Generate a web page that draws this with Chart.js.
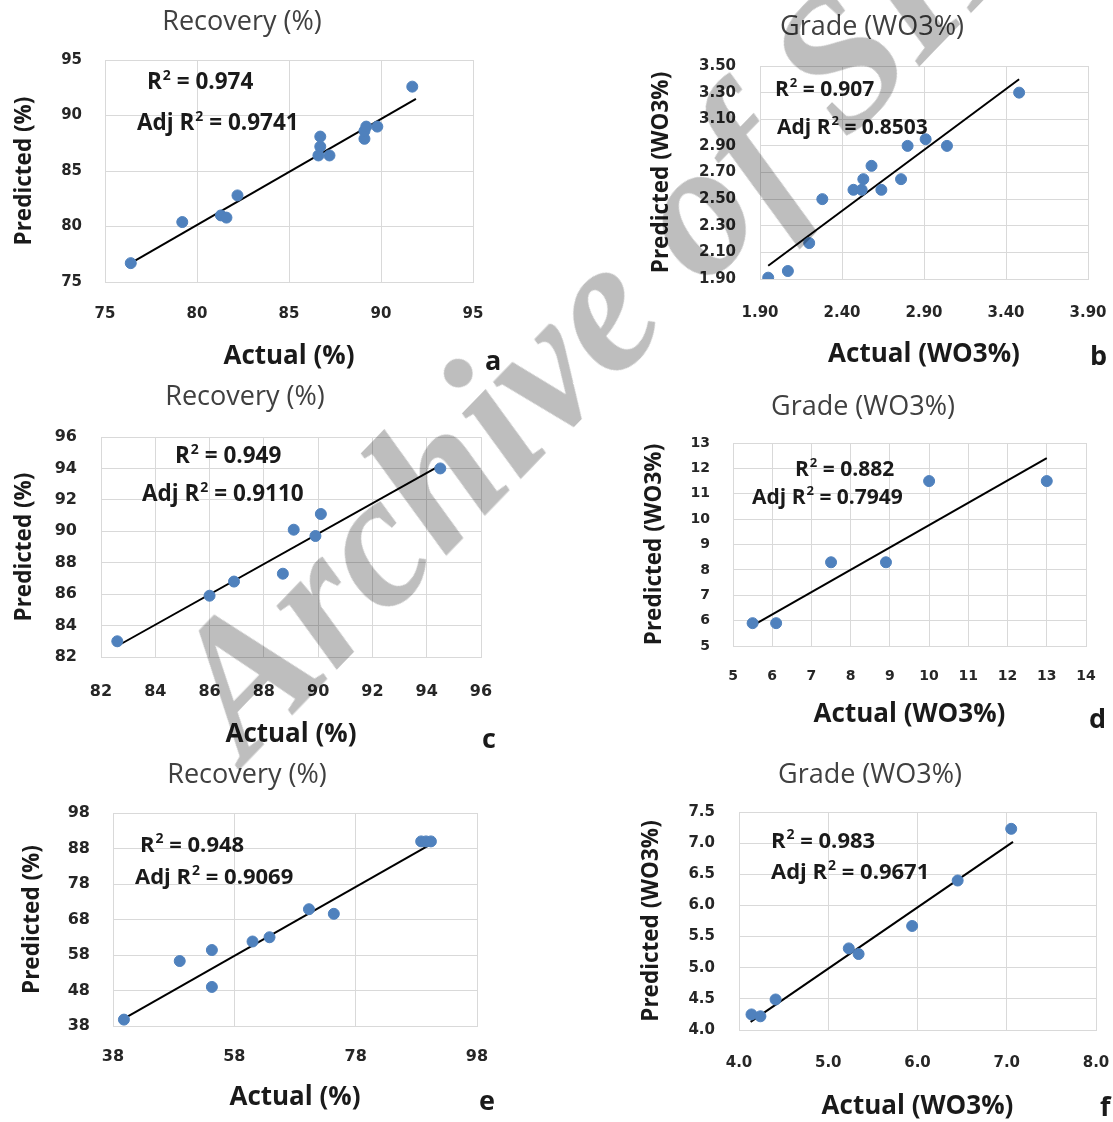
<!DOCTYPE html>
<html>
<head>
<meta charset="utf-8">
<script src="https://cdn.jsdelivr.net/npm/chart.js@4.4.1/dist/chart.umd.min.js"></script>
<style>
  body { margin: 0; background: #fff; }
  #wrap { position: relative; width: 1113px; height: 1122px; overflow: hidden; background: #fff; }
  .panel { position: absolute; }
  #mark { position: absolute; left: 236px; top: 754px; width: 0; height: 0; pointer-events: none; mix-blend-mode: multiply; }
  #mark span {
    position: absolute; left: 0; top: -0.8375em; line-height: 1em; white-space: nowrap;
    font: italic bold 190px "Liberation Serif", serif; color: #bebebe;
    transform-origin: 0 0.8375em; transform: rotate(-46deg);
  }
</style>
</head>
<body>
<div id="wrap">
  <div class="panel" style="left:0;top:0"><canvas id="ca" width="520" height="380"></canvas></div>
  <div class="panel" style="left:560px;top:0"><canvas id="cb" width="553" height="380"></canvas></div>
  <div class="panel" style="left:0;top:380px"><canvas id="cc" width="520" height="380"></canvas></div>
  <div class="panel" style="left:560px;top:380px"><canvas id="cd" width="553" height="380"></canvas></div>
  <div class="panel" style="left:0;top:760px"><canvas id="ce" width="520" height="362"></canvas></div>
  <div class="panel" style="left:560px;top:760px"><canvas id="cf" width="553" height="362"></canvas></div>
  <div id="mark"><span>Archive of SID</span></div>
</div>
<script>
// ---- data ----
const actualA    = [76.4, 79.2, 81.3, 81.6, 82.2, 86.6, 86.7, 86.7, 87.2, 89.1, 89.1, 89.2, 89.8, 91.7];
const predictedA = [76.7, 80.4, 81.0, 80.8, 82.8, 86.4, 87.2, 88.1, 86.4, 87.9, 88.6, 89.0, 89.0, 92.6];
const fitXA = [76.4, 91.9], fitYA = [76.7, 91.5];

const actualB    = [1.95, 2.07, 2.20, 2.28, 2.47, 2.52, 2.53, 2.58, 2.64, 2.76, 2.80, 2.91, 3.04, 3.48];
const predictedB = [1.91, 1.96, 2.17, 2.50, 2.57, 2.57, 2.65, 2.75, 2.57, 2.65, 2.90, 2.95, 2.90, 3.30];
const fitXB = [1.95, 3.48], fitYB = [2.00, 3.40];

const actualC    = [82.6, 86.0, 86.9, 88.7, 89.1, 89.9, 90.1, 94.5];
const predictedC = [83.0, 85.9, 86.8, 87.3, 90.1, 89.7, 91.1, 94.0];
const fitXC = [82.6, 94.5], fitYC = [82.7, 94.2];

const actualD    = [5.5, 6.1, 7.5, 8.9, 10.0, 13.0];
const predictedD = [5.9, 5.9, 8.3, 8.3, 11.5, 11.5];
const fitXD = [5.5, 13.0], fitYD = [5.8, 12.4];

const actualE    = [39.8, 49.0, 54.3, 54.3, 61.0, 63.8, 70.3, 74.4, 88.8, 89.6, 90.4];
const predictedE = [39.8, 56.3, 59.4, 49.0, 61.8, 63.0, 70.9, 69.6, 90.0, 90.0, 90.0];
const fitXE = [39.8, 90.2], fitYE = [40.1, 89.0];

const actualF    = [4.14, 4.24, 4.41, 5.23, 5.34, 5.94, 6.45, 7.05];
const predictedF = [4.25, 4.22, 4.49, 5.31, 5.22, 5.67, 6.40, 7.23];
const fitXF = [4.13, 7.07], fitYF = [4.13, 7.02];

const r2Values  = ['0.974', '0.907', '0.949', '0.882', '0.948', '0.983'];
const adjValues = ['0.9741', '0.8503', '0.9110', '0.7949', '0.9069', '0.9671'];

const ticksA  = ['75', '80', '85', '90', '95'];
const ticksBx = ['1.90', '2.40', '2.90', '3.40', '3.90'];
const ticksBy = ['1.90', '2.10', '2.30', '2.50', '2.70', '2.90', '3.10', '3.30', '3.50'];
const ticksC  = ['82', '84', '86', '88', '90', '92', '94', '96'];
const ticksDx = ['5', '6', '7', '8', '9', '10', '11', '12', '13', '14'];
const ticksDy = ['5', '6', '7', '8', '9', '10', '11', '12', '13'];
const ticksEx = ['38', '58', '78', '98'];
const ticksEy = ['38', '48', '58', '68', '78', '88', '98'];
const ticksFx = ['4.0', '5.0', '6.0', '7.0', '8.0'];
const ticksFy = ['4.0', '4.5', '5.0', '5.5', '6.0', '6.5', '7.0', '7.5'];

const recTitle = 'Recovery (%)', gradeTitle = 'Grade (WO3%)';

// R² labels and panel letter
const notes = {
  id: 'notes',
  afterDatasetsDraw(chart, args, o) {
    const ctx = chart.ctx, ca = chart.chartArea;
    const big = 'bold ' + o.size + 'px "Open Sans"';
    const small = 'bold ' + Math.round(o.size * 0.62) + 'px "Open Sans"';
    ctx.save();
    ctx.fillStyle = '#1a1a1a';
    ctx.textBaseline = 'middle';
    o.lines.forEach(function (l) {
      let x = ca.left + l[2], y = ca.top + l[3];
      ctx.font = big; ctx.fillText(l[0], x, y); x += ctx.measureText(l[0]).width + 1;
      ctx.font = small; ctx.fillText('2', x, y - o.size * 0.3); x += ctx.measureText('2').width;
      ctx.font = big; ctx.fillText(l[1], x, y);
    });
    ctx.font = 'bold 27px "Open Sans"';
    ctx.fillText(o.letter, ca.right + o.letterAt[0], ca.bottom + o.letterAt[1]);
    ctx.restore();
  }
};

function pts(xs, ys) { return xs.map((x, i) => ({x: x, y: ys[i]})); }

function axis(labels, g, horiz) {
  const lo = parseFloat(labels[0]), hi = parseFloat(labels[labels.length - 1]);
  return {
    type: 'linear', min: lo, max: hi,
    ticks: {
      stepSize: (hi - lo) / (labels.length - 1), autoSkip: false,
      color: '#262626', padding: horiz ? g.xTickPad : g.yTickPad,
      font: {family: '"DejaVu Sans"', weight: 'bold', size: g.tick},
      callback: (v, i) => labels[i]
    },
    grid: {color: '#d9d9d9', drawTicks: false},
    border: {color: '#d9d9d9'},
    title: {
      display: true, text: horiz ? g.xTitle : g.yTitle, color: '#1a1a1a',
      font: {family: '"Open Sans"', weight: 'bold', size: horiz ? 26 : 22.5},
      padding: horiz ? {top: 0, bottom: g.xTitlePad} : {top: g.yTitlePad, bottom: 0}
    },
    afterFit(s) {
      if (horiz) { s.height = g.xH; s.paddingLeft = 0; s.paddingRight = 0; }
      else { s.width = g.yW; s.paddingTop = 0; s.paddingBottom = 0; }
    }
  };
}

function panel(id, xs, ys, fx, fy, xt, yt, g) {
  new Chart(document.getElementById(id), {
    type: 'scatter',
    data: {
      datasets: [
        {data: pts(xs, ys), backgroundColor: '#4f81bd', borderColor: '#4f81bd', pointRadius: 5.5, pointHoverRadius: 5.5},
        {data: pts(fx, fy), showLine: true, borderColor: '#000', borderWidth: 2, pointRadius: 0}
      ]
    },
    options: {
      responsive: false, animation: false, devicePixelRatio: 1,
      layout: {padding: {left: g.pl, right: g.pr, top: 0, bottom: 0}},
      plugins: {
        legend: {display: false}, tooltip: {enabled: false},
        title: {
          display: true, text: g.title, color: '#404040',
          font: {family: '"Open Sans"', weight: 'normal', size: 27},
          padding: {top: g.tTop, bottom: g.tBottom}
        },
        notes: {size: g.note, letter: g.letter, letterAt: g.letterAt, lines: g.lines}
      },
      scales: {x: axis(xt, g, true), y: axis(yt, g, false)}
    },
    plugins: [notes]
  });
}

panel('ca', actualA, predictedA, fitXA, fitYA, ticksA, ticksA, {
  title: recTitle, xTitle: 'Actual (%)', yTitle: 'Predicted (%)', letter: 'a',
  pl: 11, pr: 47, tTop: 5.8, tBottom: 21.8, yW: 94, xH: 98, yTitlePad: 0.5, xTitlePad: 7.4,
  tick: 15, xTickPad: 23, yTickPad: 23, note: 22.5, letterAt: [12, 80],
  lines: [['R', ' = ' + r2Values[0], 42, 23], ['Adj R', ' = ' + adjValues[0], 32, 64]]
});
panel('cb', actualB, predictedB, fitXB, fitYB, ticksBx, ticksBy, {
  title: gradeTitle, xTitle: 'Actual (WO3%)', yTitle: 'Predicted (WO3%)', letter: 'b',
  pl: 96, pr: 25, tTop: 10.8, tBottom: 22.8, yW: 104, xH: 101, yTitlePad: -7.5, xTitlePad: 9.4,
  tick: 15, xTickPad: 25, yTickPad: 24, note: 21, letterAt: [2, 78],
  lines: [['R', ' = ' + r2Values[1], 15, 24], ['Adj R', ' = ' + adjValues[1], 17, 62]]
});
panel('cc', actualC, predictedC, fitXC, fitYC, ticksC, ticksC, {
  title: recTitle, xTitle: 'Actual (%)', yTitle: 'Predicted (%)', letter: 'c',
  pl: 9, pr: 39, tTop: 0.8, tBottom: 23.8, yW: 92, xH: 103, yTitlePad: 2.5, xTitlePad: 9.4,
  tick: 16, xTickPad: 25.4, yTickPad: 24, note: 22.5, letterAt: [1, 83],
  lines: [['R', ' = ' + r2Values[2], 74, 20], ['Adj R', ' = ' + adjValues[2], 41, 58]]
});
panel('cd', actualD, predictedD, fitXD, fitYD, ticksDx, ticksDy, {
  title: gradeTitle, xTitle: 'Actual (WO3%)', yTitle: 'Predicted (WO3%)', letter: 'd',
  pl: 80, pr: 27, tTop: 10.8, tBottom: 19.8, yW: 93, xH: 114, yTitlePad: 1.5, xTitlePad: 29.4,
  tick: 14, xTickPad: 21.6, yTickPad: 23, note: 21, letterAt: [3, 74],
  lines: [['R', ' = ' + r2Values[3], 62, 27], ['Adj R', ' = ' + adjValues[3], 19, 55]]
});
panel('ce', actualE, predictedE, fitXE, fitYE, ticksEx, ticksEy, {
  title: recTitle, xTitle: 'Actual (%)', yTitle: 'Predicted (%)', letter: 'e',
  pl: 17, pr: 43, tTop: -1.2, tBottom: 21.8, yW: 96, xH: 96, yTitlePad: 2.5, xTitlePad: 8.4,
  tick: 16, xTickPad: 21.4, yTickPad: 23, note: 22, letterAt: [2, 76],
  lines: [['R', ' = ' + r2Values[4], 27, 33], ['Adj R', ' = ' + adjValues[4], 22, 65]]
});
panel('cf', actualF, predictedF, fitXF, fitYF, ticksFx, ticksFy, {
  title: gradeTitle, xTitle: 'Actual (WO3%)', yTitle: 'Predicted (WO3%)', letter: 'f',
  pl: 84, pr: 17, tTop: -1.2, tBottom: 20.8, yW: 95, xH: 92, yTitlePad: -5.5, xTitlePad: -0.6,
  tick: 15, xTickPad: 23.8, yTickPad: 24, note: 22, letterAt: [4, 78],
  lines: [['R', ' = ' + r2Values[5], 32, 30], ['Adj R', ' = ' + adjValues[5], 32, 61]]
});
</script>
</body>
</html>
